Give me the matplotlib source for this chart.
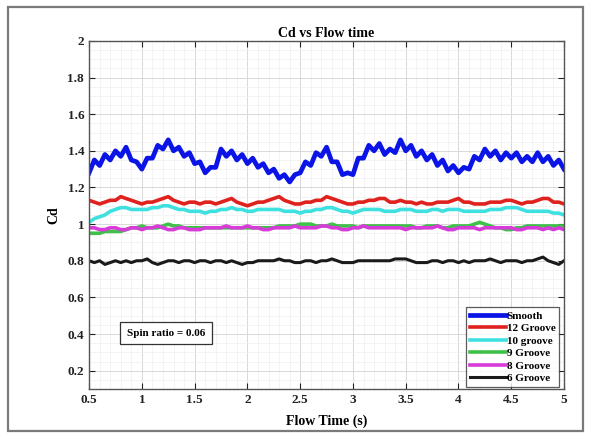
import numpy as np
import matplotlib
matplotlib.use("Agg")
import matplotlib.pyplot as plt
from matplotlib.ticker import MultipleLocator
from matplotlib.patches import Rectangle

smooth = [1.28, 1.35, 1.32, 1.38, 1.35, 1.40, 1.37, 1.42, 1.35, 1.34,
          1.30, 1.36, 1.36, 1.43, 1.41, 1.46, 1.40, 1.42, 1.37, 1.39,
          1.33, 1.34, 1.28, 1.31, 1.31, 1.41, 1.37, 1.40, 1.35, 1.38,
          1.33, 1.36, 1.31, 1.33, 1.28, 1.30, 1.25, 1.27, 1.23, 1.27,
          1.28, 1.34, 1.32, 1.39, 1.37, 1.42, 1.34, 1.34, 1.27, 1.28,
          1.27, 1.36, 1.36, 1.43, 1.40, 1.44, 1.38, 1.41, 1.39, 1.46,
          1.40, 1.43, 1.37, 1.40, 1.35, 1.38, 1.32, 1.35, 1.29, 1.32,
          1.28, 1.31, 1.30, 1.37, 1.35, 1.41, 1.37, 1.40, 1.35, 1.39,
          1.36, 1.39, 1.34, 1.37, 1.34, 1.39, 1.34, 1.37, 1.32, 1.35,
          1.30]
groove12 = [1.13, 1.12, 1.11, 1.12, 1.13, 1.13, 1.15, 1.14, 1.13, 1.12,
            1.11, 1.12, 1.12, 1.13, 1.14, 1.15, 1.13, 1.12, 1.11, 1.12,
            1.12, 1.11, 1.12, 1.12, 1.11, 1.12, 1.13, 1.14, 1.12, 1.11,
            1.10, 1.11, 1.12, 1.12, 1.13, 1.14, 1.15, 1.13, 1.12, 1.11,
            1.11, 1.12, 1.12, 1.13, 1.13, 1.15, 1.14, 1.13, 1.12, 1.11,
            1.11, 1.12, 1.12, 1.13, 1.13, 1.14, 1.14, 1.12, 1.12, 1.13,
            1.12, 1.12, 1.11, 1.12, 1.11, 1.11, 1.12, 1.12, 1.12, 1.13,
            1.14, 1.12, 1.12, 1.11, 1.11, 1.11, 1.12, 1.12, 1.12, 1.13,
            1.13, 1.12, 1.11, 1.12, 1.12, 1.13, 1.14, 1.14, 1.12, 1.12,
            1.11]
groove10 = [1.01, 1.03, 1.04, 1.05, 1.07, 1.08, 1.09, 1.09, 1.08, 1.08,
            1.08, 1.08, 1.09, 1.09, 1.10, 1.10, 1.09, 1.08, 1.08, 1.07,
            1.07, 1.07, 1.06, 1.07, 1.07, 1.08, 1.08, 1.09, 1.08, 1.08,
            1.07, 1.07, 1.08, 1.08, 1.08, 1.08, 1.08, 1.07, 1.07, 1.07,
            1.06, 1.07, 1.07, 1.08, 1.08, 1.09, 1.09, 1.08, 1.07, 1.07,
            1.06, 1.07, 1.08, 1.08, 1.08, 1.08, 1.07, 1.07, 1.07, 1.08,
            1.08, 1.08, 1.07, 1.07, 1.07, 1.08, 1.08, 1.07, 1.08, 1.08,
            1.08, 1.07, 1.07, 1.07, 1.07, 1.07, 1.08, 1.08, 1.08, 1.09,
            1.09, 1.09, 1.08, 1.07, 1.07, 1.07, 1.07, 1.07, 1.06, 1.06,
            1.05]
groove9 = [0.95, 0.95, 0.95, 0.96, 0.96, 0.96, 0.96, 0.97, 0.98, 0.98,
           0.99, 0.98, 0.98, 0.98, 0.99, 1.00, 0.99, 0.99, 0.98, 0.98,
           0.98, 0.98, 0.98, 0.98, 0.98, 0.98, 0.98, 0.98, 0.98, 0.98,
           0.98, 0.98, 0.98, 0.98, 0.98, 0.98, 0.99, 0.99, 0.99, 0.99,
           1.00, 1.00, 1.00, 0.99, 0.99, 0.99, 1.00, 0.99, 0.99, 0.99,
           0.99, 0.98, 0.99, 0.99, 0.99, 0.99, 0.99, 0.99, 0.99, 0.99,
           0.99, 0.99, 0.98, 0.98, 0.99, 0.99, 0.99, 0.98, 0.98, 0.99,
           0.99, 0.99, 0.99, 1.00, 1.01, 1.00, 0.99, 0.98, 0.98, 0.97,
           0.97, 0.98, 0.98, 0.99, 0.99, 0.99, 0.99, 0.99, 0.99, 0.99,
           0.99]
groove8 = [0.98, 0.98, 0.97, 0.97, 0.98, 0.98, 0.97, 0.97, 0.98, 0.98,
           0.97, 0.98, 0.98, 0.99, 0.98, 0.97, 0.97, 0.98, 0.98, 0.97,
           0.97, 0.97, 0.98, 0.98, 0.98, 0.98, 0.99, 0.98, 0.98, 0.98,
           0.99, 0.98, 0.98, 0.97, 0.97, 0.98, 0.98, 0.98, 0.98, 0.99,
           0.98, 0.98, 0.98, 0.98, 0.99, 0.99, 0.98, 0.98, 0.97, 0.97,
           0.98, 0.98, 0.99, 0.98, 0.98, 0.98, 0.98, 0.98, 0.98, 0.98,
           0.97, 0.98, 0.98, 0.98, 0.98, 0.98, 0.99, 0.98, 0.97, 0.97,
           0.98, 0.98, 0.98, 0.98, 0.97, 0.98, 0.98, 0.98, 0.98, 0.98,
           0.98, 0.97, 0.97, 0.98, 0.98, 0.98, 0.97, 0.98, 0.97, 0.98,
           0.97]
groove6 = [0.80, 0.79, 0.80, 0.78, 0.79, 0.80, 0.79, 0.80, 0.79, 0.80,
           0.80, 0.81, 0.79, 0.78, 0.79, 0.80, 0.80, 0.79, 0.80, 0.80,
           0.79, 0.80, 0.80, 0.79, 0.80, 0.80, 0.79, 0.80, 0.79, 0.78,
           0.79, 0.79, 0.80, 0.80, 0.80, 0.80, 0.81, 0.80, 0.80, 0.79,
           0.79, 0.80, 0.80, 0.79, 0.80, 0.80, 0.81, 0.80, 0.79, 0.79,
           0.79, 0.80, 0.80, 0.80, 0.80, 0.80, 0.80, 0.80, 0.81, 0.81,
           0.81, 0.80, 0.79, 0.79, 0.79, 0.80, 0.80, 0.79, 0.80, 0.80,
           0.79, 0.80, 0.79, 0.80, 0.80, 0.80, 0.81, 0.80, 0.79, 0.80,
           0.80, 0.80, 0.79, 0.80, 0.80, 0.81, 0.82, 0.80, 0.79, 0.78,
           0.80]

labels = ["Smooth", "12 Groove", "10 groove", "9 Groove", "8 Groove", "6 Groove"]
colors = ["#0a14e6", "#e0221e", "#3fe0e0", "#3fc04a", "#d83cd8", "#1a1a1a"]
widths = [3.4, 2.6, 2.6, 2.6, 2.6, 2.2]
series = [smooth, groove12, groove10, groove9, groove8, groove6]

xticks = [0.5, 1, 1.5, 2, 2.5, 3, 3.5, 4, 4.5, 5]
xticklabels = ["0.5", "1", "1.5", "2", "2.5", "3", "3.5", "4", "4.5", "5"]
yticks = [0.2, 0.4, 0.6, 0.8, 1.0, 1.2, 1.4, 1.6, 1.8, 2.0]
yticklabels = ["0.2", "0.4", "0.6", "0.8", "1", "1.2", "1.4", "1.6", "1.8", "2"]

plt.rcParams["font.family"] = ["Liberation Serif", "DejaVu Serif"]
plt.rcParams["font.weight"] = "bold"

fig = plt.figure(figsize=(5.9, 4.34), dpi=100)
ax = fig.add_axes([0.151, 0.1037, 0.805, 0.802])

# outer frame around the whole picture
fig.patches.append(Rectangle((8 / 590, 3 / 434), 575 / 590, 424 / 434,
                             transform=fig.transFigure, fill=False,
                             edgecolor="#7a7a7a", linewidth=1.6))

for vals, lab, col, lw in zip(series, labels, colors, widths):
    t = np.linspace(0.5, 5.0, len(vals))
    ax.plot(t, vals, color=col, linewidth=lw, label=lab)

ax.set_xlim(0.5, 5)
ax.set_ylim(0.1, 2)
ax.set_xticks(xticks)
ax.set_xticklabels(xticklabels)
ax.set_yticks(yticks)
ax.set_yticklabels(yticklabels)
ax.xaxis.set_minor_locator(MultipleLocator(0.1))
ax.yaxis.set_minor_locator(MultipleLocator(0.05))
ax.grid(which="major", color="#d9d9d9", linewidth=0.7)
ax.grid(which="minor", color="#f0f0f0", linewidth=0.5)
ax.set_axisbelow(True)
ax.tick_params(which="both", direction="in", top=True, right=True,
               labelsize=9.5, colors="#222222")
ax.tick_params(which="minor", length=0)
ax.tick_params(which="major", length=4)
for s in ax.spines.values():
    s.set_color("#555555")
    s.set_linewidth(1.0)

ax.set_title("Cd vs Flow time", fontsize=10, fontweight="bold", pad=3)
ax.set_xlabel("Flow Time (s)", fontsize=10, fontweight="bold", labelpad=6)
ax.set_ylabel("Cd", fontsize=10, fontweight="bold", labelpad=5)

leg = ax.legend(loc="lower right", bbox_to_anchor=(0.99, 0.005), fontsize=8,
                frameon=True, fancybox=False, handlelength=3.2,
                handletextpad=0.1, labelspacing=0.25, borderpad=0.35,
                borderaxespad=0.0)
leg.get_frame().set_edgecolor("#333333")
leg.get_frame().set_linewidth(0.9)
for txt in leg.get_texts():
    txt.set_fontweight("bold")

ax.text(0.162, 0.16, "Spin ratio = 0.06", transform=ax.transAxes,
        ha="center", va="center", fontsize=8, fontweight="bold",
        bbox=dict(boxstyle="square,pad=0.6", facecolor="white",
                  edgecolor="#333333", linewidth=0.9))

fig.savefig("out.png", dpi=100)
